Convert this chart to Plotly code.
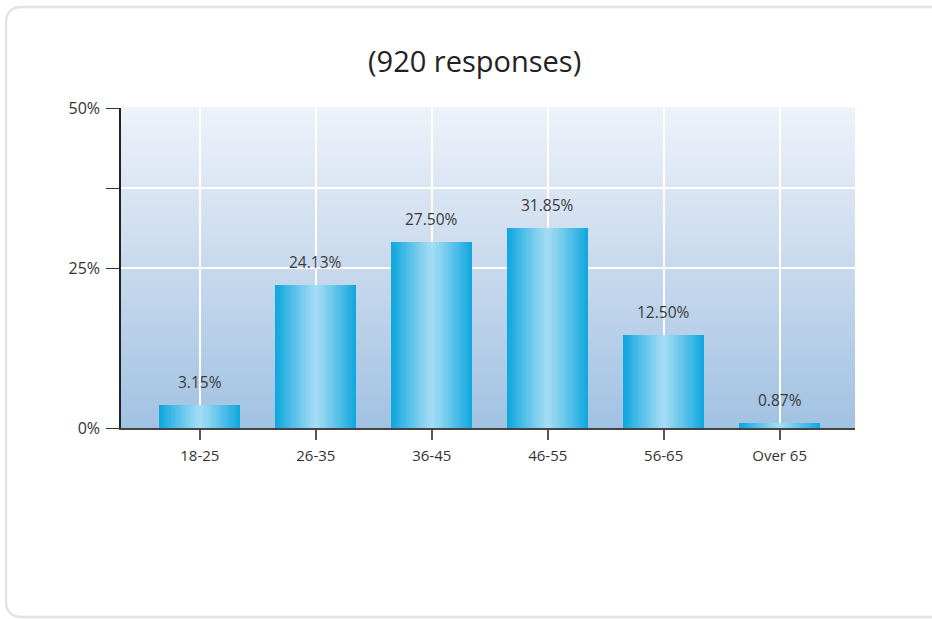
import plotly.graph_objects as go

categories = ["18-25", "26-35", "36-45", "46-55", "56-65", "Over 65"]
bar_values = [3.6, 22.3, 29.1, 31.3, 14.5, 0.8]
bar_labels = ["3.15%", "24.13%", "27.50%", "31.85%", "12.50%", "0.87%"]
y_tickvals = [0, 25, 37.5, 50]
y_ticktext = ["0%", "25%", "", "50%"]
title_text = "(920 responses)"

W, H = 932, 619
L, R, T, B = 121, 77, 108, 191
FONT = "'Open Sans', Lato, sans-serif"

def px_x(px):
    return (px - L) / (W - L - R)

def px_y(py):
    return (H - B - py) / (H - T - B)

def lerp(c1, c2, t):
    return "rgb(%d,%d,%d)" % tuple(round(a + (b - a) * t) for a, b in zip(c1, c2))

edge = (16, 168, 222)
center = (168, 221, 245)

fig = go.Figure()
N = 18
BW = 0.7
x_idx = list(range(len(categories)))
for k in range(N):
    frac = 1 - k / N
    fig.add_trace(go.Bar(
        x=x_idx, y=bar_values, width=BW * frac,
        marker=dict(color=lerp(center, edge, frac ** 1.1), line=dict(width=0)),
        hoverinfo="skip", showlegend=False,
    ))

for i, (v, t) in enumerate(zip(bar_values, bar_labels)):
    fig.add_annotation(x=i, y=v, text=t, showarrow=False, yanchor="bottom",
                       yshift=10, font=dict(family=FONT, size=15.5, color="#3a3a3a"))

fig.add_annotation(x=px_x(474), y=px_y(60), xref="paper", yref="paper",
                   text=title_text, showarrow=False, xanchor="center", yanchor="middle",
                   font=dict(family=FONT, size=29, color="#222"))

# card
x0, y0, x1, y1, r = px_x(6), px_y(7), px_x(960), px_y(617), 16
rx = r / (W - L - R)
ry = r / (H - T - B)
path = (f"M {x0+rx},{y0} L {x1},{y0} L {x1},{y1} L {x0+rx},{y1} "
        f"Q {x0},{y1} {x0},{y1+ry} L {x0},{y0-ry} Q {x0},{y0} {x0+rx},{y0} Z")
fig.add_shape(type="path", path=path, xref="paper", yref="paper", layer="below",
              fillcolor="white", line=dict(color="#e4e4e4", width=2.5))

# plot background gradient (bands)
top_c = (238, 242, 250)
mid_c = (200, 217, 237)
bot_c = (161, 194, 226)
NB = 120
for j in range(NB):
    t = (j + 0.5) / NB  # 0 at bottom, 1 at top
    if t < 0.5:
        col = lerp(bot_c, mid_c, t / 0.5)
    else:
        col = lerp(mid_c, top_c, (t - 0.5) / 0.5)
    fig.add_shape(type="rect", xref="x domain", yref="y domain",
                  x0=0, x1=1, y0=j / NB, y1=(j + 1) / NB + 0.002,
                  fillcolor=col, line=dict(width=0), layer="below")

fig.update_layout(
    width=W, height=H, margin=dict(l=L, r=R, t=T, b=B),
    paper_bgcolor="white", plot_bgcolor="rgba(0,0,0,0)",
    barmode="overlay", bargap=0, showlegend=False,
    font=dict(family=FONT, size=15, color="#333"),
)
fig.update_xaxes(range=[-0.68, 5.65], tickvals=x_idx, ticktext=categories,
                 showgrid=True, gridcolor="white", gridwidth=1.5,
                 ticks="outside", ticklen=10, tickcolor="#555", tickwidth=1.5,
                 showline=True, linecolor="#444", linewidth=2, ticklabelstandoff=3,
                 tickfont=dict(family=FONT, size=15, color="#333"), fixedrange=True)
fig.update_yaxes(range=[0, 50], tickvals=y_tickvals, ticktext=y_ticktext,
                 showgrid=True, gridcolor="white", gridwidth=1.5,
                 ticks="outside", ticklen=13, tickcolor="#333", tickwidth=1.2,
                 showline=True, linecolor="#222", linewidth=1.5, zeroline=False,
                 ticklabelstandoff=3,
                 tickfont=dict(family=FONT, size=16, color="#333"), fixedrange=True)

fig.write_html("out.html", config={"displayModeBar": False},
               post_script="document.body.style.margin='0';")
